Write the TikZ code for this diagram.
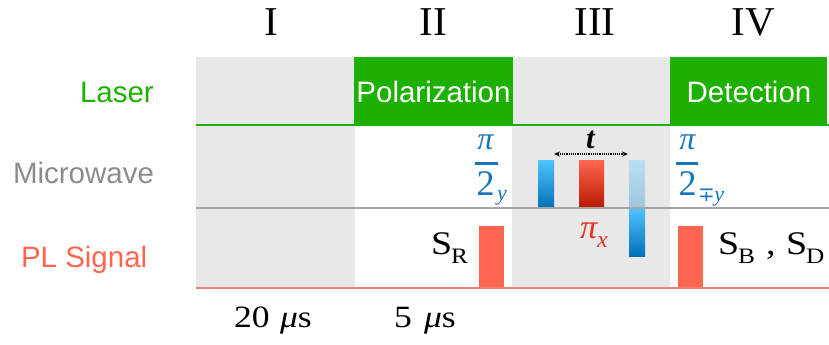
\documentclass[tikz,border=0pt]{standalone}
\usepackage{fontspec}
\setmainfont{Liberation Serif}
\newfontfamily\lsans{Liberation Sans}
\newfontfamily\serifw[FakeStretch=1.15]{Liberation Serif}
\newfontfamily\djv{DejaVu Sans}
\usetikzlibrary{arrows.meta}
\definecolor{lgray}{RGB}{232,232,232}
\definecolor{lgreen}{RGB}{30,176,0}
\definecolor{mwgray}{RGB}{140,140,140}
\definecolor{plred}{RGB}{255,102,80}
\definecolor{linered}{RGB}{240,128,112}
\definecolor{linegray}{RGB}{165,165,165}
\definecolor{pibl}{RGB}{23,117,190}
\definecolor{pired}{RGB}{232,48,28}
\definecolor{bltop}{RGB}{80,196,255}
\definecolor{blbot}{RGB}{0,112,184}
\definecolor{paletop}{RGB}{186,222,242}
\definecolor{palebot}{RGB}{160,198,222}
\definecolor{rdtop}{RGB}{255,102,80}
\definecolor{rdbot}{RGB}{184,24,0}
\newcommand\fsz[1]{\fontsize{#1bp}{#1bp}\selectfont}
\tikzset{
  txt/.style={inner sep=0pt, outer sep=0pt},
  rowlab/.style={txt, anchor=base west, font=\lsans\fsz{29.5}},
  boxlab/.style={txt, anchor=base, font=\lsans\fsz{29.5}, text=white},
  numlab/.style={txt, anchor=base, font=\fsz{41}},
  serif/.style={txt, anchor=base west, font=\serifw\fsz{33}},
  subsc/.style={txt, anchor=base west, font=\serifw\fsz{22}},
  timelab/.style={txt, anchor=base west, font=\serifw\fsz{31}},
  bluepulse/.style={top color=bltop, bottom color=blbot, draw=none},
  redpulse/.style={top color=rdtop, bottom color=rdbot, draw=none},
  plpulse/.style={fill=plred, draw=none},
}
\begin{document}
\begin{tikzpicture}[x=1bp,y=-1bp]
\useasboundingbox (0,0) rectangle (829,344);
% regions
\fill[lgray] (196,57) rectangle (355,288);
\fill[lgray] (512,57) rectangle (670,288);
\fill[lgreen] (354,57) rectangle (513,125);
\fill[lgreen] (670,57) rectangle (827,125);
% microwave pulses
\shade[bluepulse] (538,160) rectangle (554,208);
\shade[redpulse] (579,160) rectangle (604,208);
\shade[top color=paletop, bottom color=palebot] (629,160) rectangle (645,208);
\shade[bluepulse] (629,208) rectangle (645,256);
% PL pulses
\fill[plpulse] (479,226) rectangle (504,288);
\fill[plpulse] (678,226) rectangle (703,288);
% lines
\draw[lgreen, line width=1.5bp] (196,125) -- (829,125);
\draw[linegray, line width=1.8bp] (196,208) -- (829,208);
\draw[linered, line width=1.5bp] (196,288) -- (829,288);
% headers
\node[numlab] (n1) at (271,35) {I};
\node[numlab] (n2) at (433,35) {II};
\node[numlab] (n3) at (595,35) {III};
\node[numlab] (n4) at (753,35) {IV};
% row labels
\node[rowlab, text=lgreen] (laser) at (80,102) {Laser};
\node[rowlab, text=mwgray] (mw) at (13,183) {Microwave};
\node[rowlab, text=plred] (pl) at (21,267) {PL Signal};
% box labels
\node[boxlab] (pol) at (433.5,102) {Polarization};
\node[boxlab] (det) at (749,102) {Detection};
% pi/2_y
\node[txt, anchor=base, text=pibl, font=\fsz{32}\itshape] (pi1) at (485.5,149) {π};
\draw[pibl, line width=3bp] (475,163) -- (498,163);
\node[txt, anchor=base, text=pibl, font=\fsz{36}] (two1) at (485.5,195) {2};
\node[txt, anchor=base west, text=pibl, font=\fsz{22}\itshape] (y1) at (497,200) {y};
% pi/2_{-+y}
\node[txt, anchor=base, text=pibl, font=\fsz{32}\itshape] (pi2) at (687.5,149) {π};
\draw[pibl, line width=3bp] (676,163) -- (698,163);
\node[txt, anchor=base, text=pibl, font=\fsz{36}] (two2) at (687.5,195) {2};
\node[txt, anchor=base west, text=pibl, font=\fsz{20}] (y2) at (698,201) {{\djv ∓}\kern-0.5bp{\fsz{22}\itshape y}};
% t arrow
\coordinate (ta) at (554,154);
\coordinate (tb) at (628,154);
\draw[densely dotted, line width=1.2bp, {Stealth[length=6bp,width=5bp]}-{Stealth[length=6bp,width=5bp]}] (ta) -- (tb);
\node[txt, anchor=base, font=\fsz{31}\itshape\bfseries] (t) at (590.5,148) {t};
% pi_x
\node[txt, anchor=base west, text=pired, font=\fsz{34}\itshape] (pix) at (580,238) {π\raisebox{-9bp}{\fsz{24}x}};
% S labels
\node[serif] (sr) at (431,254) {S};
\node[subsc] (srs) at (451,263) {R};
\node[serif] (sb) at (718,254) {S};
\node[subsc] (sbs) at (738,263) {B};
\node[serif] (comma) at (766,254) {,};
\node[serif] (sd) at (786,254) {S};
\node[subsc] (sds) at (806,263) {D};
% times
\node[timelab] (t20) at (234,327) {20};
\node[timelab] (t20u) at (280,327) {\itshape μ\upshape s};
\node[timelab] (t5) at (394,327) {5};
\node[timelab] (t5u) at (424,327) {\itshape μ\upshape s};
\end{tikzpicture}
\end{document}
